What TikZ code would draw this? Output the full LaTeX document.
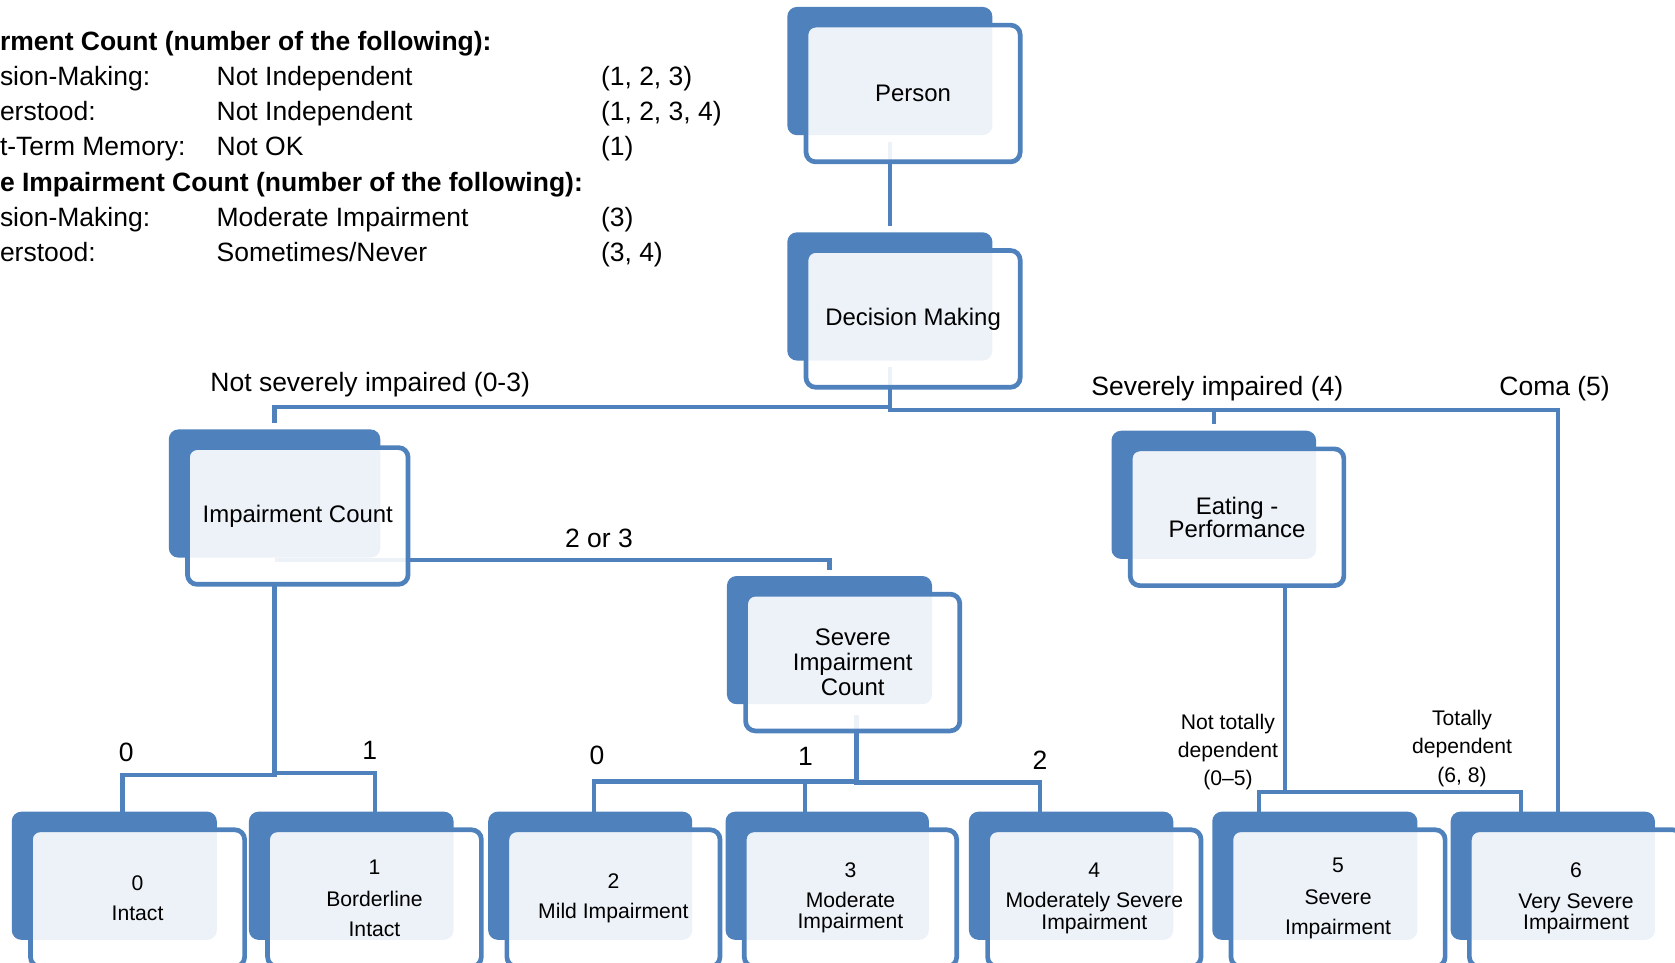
\documentclass[tikz,border=0pt]{standalone}
\usepackage{fontspec}
\setmainfont{Liberation Sans}
\usetikzlibrary{calc}
\definecolor{ablue}{HTML}{4F81BD}
\definecolor{cblue}{HTML}{4F81BD}
\pgfdeclarelayer{conns}
\pgfsetlayers{conns,main}
\newcommand\lblfont{\fontsize{12.4}{14}\selectfont}
\newcommand\midfont{\fontsize{11.2}{11.7}\selectfont}
\newcommand\botfont{\fontsize{9.9}{9.9}\selectfont}
\newcommand\edfont{\fontsize{9.9}{13.25}\selectfont}
\tikzset{
  backbox/.style={draw=none, fill=ablue, rounded corners=4.5pt, minimum height=60pt, inner sep=0pt, outer sep=0pt},
  frontbox/.style={draw=ablue, line width=2.2pt, fill=white, fill opacity=0.9, text opacity=1, rounded corners=4.5pt, minimum height=64pt, inner sep=0pt, outer sep=0pt, align=center, font=\midfont},
  conn/.style={draw=cblue, line width=2pt},
  lbl/.style={anchor=base west, inner sep=0pt, outer sep=0pt, font=\lblfont},
  lblc/.style={anchor=base, inner sep=0pt, outer sep=0pt, font=\lblfont},
  edl/.style={anchor=center, inner sep=0pt, outer sep=0pt, align=center, font=\edfont},
}
\newcommand\dbox[6]{%
  \node[backbox, minimum width={#4*0.5pt}] (#1-bg) at ({#2+#4/2},{#3+60}) {};
  \node[frontbox, minimum width={(#4+8.5)*0.5pt}, #5] (#1) at ({#2+17.5+(#4+8.5)/2},{#3+81}) {#6};
}
\begin{document}
\begin{tikzpicture}[x=0.5pt,y=-0.5pt]
\useasboundingbox (0,0) rectangle (1568,901);

% legend
\node[lbl, font=\lblfont\bfseries] (lg1) at (0,46.8) {rment Count (number of the following):};
\node[lbl] (lg2a) at (0,79.8) {sion-Making:};
\node[lbl] (lg2b) at (202.8,79.8) {Not Independent};
\node[lbl] (lg2c) at (562.6,79.8) {(1, 2, 3)};
\node[lbl] (lg3a) at (0,112.8) {erstood:};
\node[lbl] (lg3b) at (202.8,112.8) {Not Independent};
\node[lbl] (lg3c) at (562.6,112.8) {(1, 2, 3, 4)};
\node[lbl] (lg4a) at (0,145.8) {t-Term Memory:};
\node[lbl] (lg4b) at (202.8,145.8) {Not OK};
\node[lbl] (lg4c) at (562.6,145.8) {(1)};
\node[lbl, font=\lblfont\bfseries] (lg5) at (0,178.8) {e Impairment Count (number of the following):};
\node[lbl] (lg6a) at (0,211.8) {sion-Making:};
\node[lbl] (lg6b) at (202.8,211.8) {Moderate Impairment};
\node[lbl] (lg6c) at (562.6,211.8) {(3)};
\node[lbl] (lg7a) at (0,244.8) {erstood:};
\node[lbl] (lg7b) at (202.8,244.8) {Sometimes/Never};
\node[lbl] (lg7c) at (562.6,244.8) {(3, 4)};

% boxes
\dbox{P}{737}{6.5}{192}{}{Person}
\dbox{DM}{737}{217.5}{192}{}{Decision Making}
\dbox{IC}{158}{402}{198}{}{Impairment Count}
\dbox{EP}{1040.5}{403.2}{191.5}{}{Eating -\\[-0.7pt]Performance}
\dbox{SIC}{680.5}{539.2}{192}{}{Severe\\Impairment\\Count}
\dbox{B0}{11}{759.8}{192}{font=\botfont}{0\\[4.2pt]Intact}
\dbox{B1}{233}{759.8}{191.6}{font=\botfont}{1\\[4.9pt]Borderline\\[4.1pt]Intact}
\dbox{B2}{457}{759.8}{191}{font=\botfont}{2\\[4.1pt]Mild Impairment}
\dbox{B3}{679.2}{759.8}{190.4}{font=\botfont}{3\\[4.1pt]Moderate\\Impairment}
\dbox{B4}{907}{759.8}{191.3}{font=\botfont}{4\\[4.4pt]Moderately Severe\\Impairment}
\dbox{B5}{1134.8}{759.8}{192}{font=\botfont}{5\\[4.9pt]Severe\\[4.1pt]Impairment}
\dbox{B6}{1358}{759.8}{191.2}{font=\botfont}{6\\[4.4pt]Very Severe\\Impairment}

% connectors
\begin{pgfonlayer}{conns}
\draw[conn] ([yshift=-3pt]P-bg.south) -- ([yshift=2.75pt]DM-bg.north);
\draw[conn] ([yshift=-3pt]DM-bg.south) -- ++(0,37.7) -| ([yshift=2.85pt]IC-bg.north);
\draw[conn] ([yshift=-3pt]DM-bg.south) -- ++(0,40.2) -| ([yshift=3.15pt]EP-bg.north);
\draw[conn] ([yshift=-3pt]DM-bg.south) -- ++(0,40.2) -| ([xshift=2.5pt]B6-bg.north);
\draw[conn] ([yshift=-1.25pt]IC-bg.south) -| ([yshift=2.8pt]SIC-bg.north);
\draw[conn] (IC-bg.south |- IC.south) -- ++(0,178.5) -| ([xshift=3.85pt]B0-bg.north);
\draw[conn] (IC-bg.south |- IC.south) -- ++(0,176.5) -| ([xshift=11.1pt]B1-bg.north);
\draw[conn] ([xshift=12.65pt,yshift=-5pt]SIC-bg.south) -- ++(0,62.4) -| ([xshift=1.75pt]B2-bg.north);
\draw[conn] ([xshift=12.65pt,yshift=-5pt]SIC-bg.south) -- ++(0,62.4) -| ([xshift=-10.4pt]B3-bg.north);
\draw[conn] ([xshift=12.65pt,yshift=-5pt]SIC-bg.south) -- ++(0,63.4) -| ([xshift=-14.6pt]B4-bg.north);
\draw[conn] ([xshift=22.45pt]EP.south) -- ++(0,192.9) -| ([xshift=-26.15pt]B5-bg.north);
\draw[conn] ([xshift=22.45pt]EP.south) -- ++(0,192.9) -| ([xshift=-15.05pt]B6-bg.north);
\end{pgfonlayer}

% branch labels
\node[lbl] (l1) at (197,366.6) {Not severely impaired (0-3)};
\node[lbl] (l2) at (1021.7,369.8) {Severely impaired (4)};
\node[lbl] (l3) at (1403.6,369.8) {Coma (5)};
\node[lbl] (l4) at (529,512.4) {2 or 3};
\node[lblc] (l5) at (118.2,713) {0};
\node[lblc] (l6) at (346,710.8) {1};
\node[lblc] (l7) at (558.9,715.2) {0};
\node[lblc] (l8) at (754,716.7) {1};
\node[lblc] (l9) at (973.5,720.2) {2};
\node[edl] (l10) at (1149.5,704) {Not totally\\dependent\\(0–5)};
\node[edl] (l11) at (1368.6,700.5) {Totally\\dependent\\(6, 8)};
\end{tikzpicture}
\end{document}
